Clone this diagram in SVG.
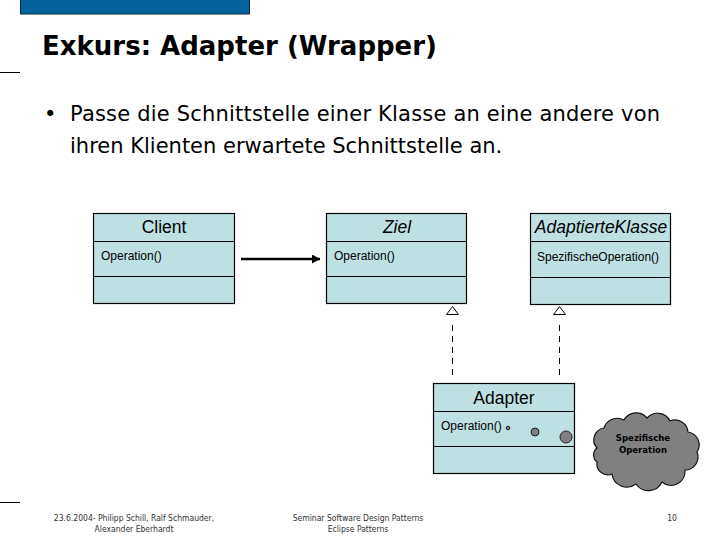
<svg xmlns="http://www.w3.org/2000/svg" width="720" height="540" viewBox="0 0 720 540">
<defs>
<style>
.box{fill:#bde0e3;stroke:#000;stroke-width:1.2}
.div{stroke:#000;stroke-width:1.2}
.hdr{font-family:"Liberation Sans",Arial,sans-serif;font-size:17.5px;text-anchor:middle;fill:#000}
.it{font-style:italic}
.op{font-family:"Liberation Sans",Arial,sans-serif;font-size:12px;fill:#000}
.foot{font-family:"DejaVu Sans Condensed","DejaVu Sans",sans-serif;font-size:8.5px;fill:#333;text-anchor:middle}
.dash{stroke:#000;stroke-width:1;stroke-dasharray:6,5;fill:none}
.tri{fill:#fff;stroke:#000;stroke-width:1}
.dot{fill:#808080;stroke:#222;stroke-width:1}
</style>
<marker id="arr" viewBox="0 0 10 10" refX="10" refY="5" markerWidth="8" markerHeight="9" orient="auto" markerUnits="userSpaceOnUse" preserveAspectRatio="none">
<path d="M0,0 L10,5 L0,10 z" fill="#000"/>
</marker>
</defs>
<rect width="720" height="540" fill="#fff"/>
<rect x="20.5" y="-1" width="229" height="15" fill="#04639b" stroke="#0a2a40" stroke-width="1"/>
<line x1="0" y1="72.5" x2="20" y2="72.5" stroke="#000" stroke-width="1"/>
<line x1="0" y1="502.5" x2="20" y2="502.5" stroke="#000" stroke-width="1"/>
<text x="42" y="55" font-family="DejaVu Sans, sans-serif" font-weight="bold" font-size="26" fill="#000">Exkurs: Adapter (Wrapper)</text>
<text font-family="DejaVu Sans, sans-serif" font-size="21" fill="#000">
<tspan x="44" y="121">•</tspan>
<tspan x="70" y="121" textLength="590">Passe die Schnittstelle einer Klasse an eine andere von</tspan>
<tspan x="70" y="153">ihren Klienten erwartete Schnittstelle an.</tspan>
</text>

<g id="client">
<rect class="box" x="93.5" y="213.5" width="141" height="90"/>
<line class="div" x1="93.5" y1="241.5" x2="234.5" y2="241.5"/>
<line class="div" x1="93.5" y1="276.5" x2="234.5" y2="276.5"/>
<text class="hdr" x="164" y="233">Client</text>
<text class="op" x="101" y="260">Operation()</text>
</g>
<g id="ziel">
<rect class="box" x="326.5" y="213.5" width="140" height="90"/>
<line class="div" x1="326.5" y1="241.5" x2="466.5" y2="241.5"/>
<line class="div" x1="326.5" y1="276.5" x2="466.5" y2="276.5"/>
<text class="hdr it" x="397" y="233">Ziel</text>
<text class="op" x="334" y="260">Operation()</text>
</g>
<g id="adaptierte">
<rect class="box" x="530.5" y="213.5" width="140" height="91"/>
<line class="div" x1="530.5" y1="241.5" x2="670.5" y2="241.5"/>
<line class="div" x1="530.5" y1="277.5" x2="670.5" y2="277.5"/>
<text class="hdr it" x="601" y="233">AdaptierteKlasse</text>
<text class="op" x="537" y="261">SpezifischeOperation()</text>
</g>
<g id="adapter">
<rect class="box" x="433.5" y="383.5" width="141" height="90"/>
<line class="div" x1="433.5" y1="411.5" x2="574.5" y2="411.5"/>
<line class="div" x1="433.5" y1="446.5" x2="574.5" y2="446.5"/>
<text class="hdr" x="504" y="404">Adapter</text>
<text class="op" x="441" y="430">Operation()</text>
</g>
<g id="cloud">
<path d="M597,448 A12,12 0 0 1 604,428 A14,14 0 0 1 624,420 A14,14 0 0 1 647,418 A14,14 0 0 1 670,421 A13,13 0 0 1 688,432 A13,13 0 0 1 697,452 A13,13 0 0 1 685,470 A14,14 0 0 1 662,482 A15,15 0 0 1 636,484 A15,15 0 0 1 612,474 A11,11 0 0 1 597,462 A9,9 0 0 1 597,448 Z" fill="#808080" stroke="#111" stroke-width="1.2"/>
<text x="643" y="441" font-family="DejaVu Sans Condensed, DejaVu Sans, sans-serif" font-weight="bold" font-size="9.5" text-anchor="middle" fill="#000">Spezifische</text>
<text x="643" y="453" font-family="DejaVu Sans Condensed, DejaVu Sans, sans-serif" font-weight="bold" font-size="9.5" text-anchor="middle" fill="#000">Operation</text>
</g>
<g id="connectors">
<line x1="241" y1="259" x2="320" y2="259" stroke="#000" stroke-width="2.5" marker-end="url(#arr)"/>
<line class="dash" x1="452.5" y1="325" x2="452.5" y2="380"/>
<line class="dash" x1="559.5" y1="325" x2="559.5" y2="380"/>
<path class="tri" d="M452.5,306.5 L446.5,314.5 L458.5,314.5 Z"/>
<path class="tri" d="M559.5,306.5 L553.5,314.5 L565.5,314.5 Z"/>
<circle class="dot" cx="508" cy="428" r="1.8"/>
<circle class="dot" cx="535" cy="432" r="4"/>
<circle class="dot" cx="566" cy="437" r="6"/>
</g>
<text class="foot" x="134" y="521">23.6.2004- Philipp Schill, Ralf Schmauder,</text>
<text class="foot" x="134" y="532">Alexander Eberhardt</text>
<text class="foot" x="358" y="521">Seminar Software Design Patterns</text>
<text class="foot" x="358" y="532">Eclipse Patterns</text>
<text class="foot" x="672" y="521">10</text>
</svg>
